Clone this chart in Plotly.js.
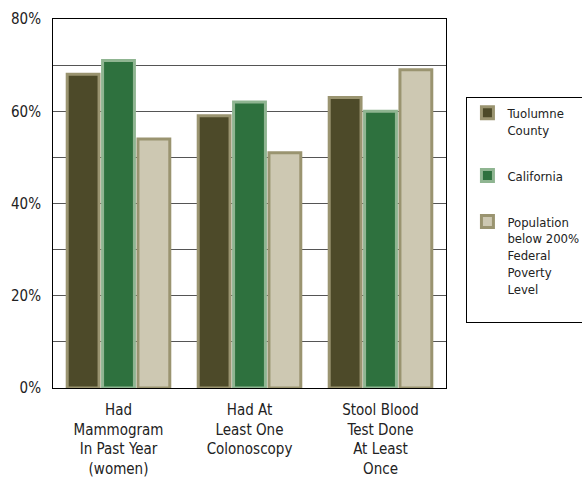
<!DOCTYPE html>
<html>
<head>
<meta charset="utf-8">
<script src="https://cdn.plot.ly/plotly-3.0.1.min.js"></script>
<style>html,body{margin:0;padding:0;background:#fff;}#chart{width:582px;height:484px;}</style>
</head>
<body>
<div id="chart"></div>
<script>
const categories = ["Had<br>Mammogram<br>In Past Year<br>(women)", "Had At<br>Least One<br>Colonoscopy", "Stool Blood<br>Test Done<br>At Least<br>Once"];
const seriesNames = ["Tuolumne<br>County", "California", "Population<br>below 200%<br>Federal<br>Poverty<br>Level<br> "];
const tuolumne = [68, 59, 63];
const california = [71, 62, 60];
const poverty = [54, 51, 69];
const yTickVals = [0, 10, 20, 30, 40, 50, 60, 70, 80];
const yTickText = ["0%", "", "20%", "", "40%", "", "60%", "", "80%"];

const FONT = "'DejaVu Sans Condensed', 'Liberation Sans Narrow', 'Arial Narrow', sans-serif";
const fills = ["#4d4a29", "#2e713e", "#cdc8b2"];
const borders = ["#9a9470", "#8fb591", "#9a9470"];
const vals = [tuolumne, california, poverty];

const data = vals.map((v, i) => ({
  type: "bar",
  x: categories,
  y: v,
  name: seriesNames[i],
  legendgroup: "g" + i,
  marker: { color: fills[i], line: { color: borders[i], width: 3 } },
  hoverinfo: "none"
}));

const layout = {
  width: 582, height: 484,
  margin: { l: 53, r: 136, t: 19, b: 96, autoexpand: false },
  paper_bgcolor: "#fff", plot_bgcolor: "#fff",
  font: { family: FONT, size: 14, color: "#222" },
  barmode: "group",
  bargap: 0.19,
  bargroupgap: 0.1,
  showlegend: true,
  legend: {
    x: 1.052, xanchor: "left", y: 0.789, yanchor: "top",
    bordercolor: "#000", borderwidth: 1,
    font: { family: FONT, size: 13, color: "#222" },
    tracegroupgap: 26,
    valign: "top",
    itemwidth: 30
  },
  xaxis: {
    showline: true, linecolor: "#000", linewidth: 1, mirror: true,
    ticks: "", ticklabelstandoff: 8,
    tickfont: { family: FONT, size: 15, color: "#222" },
    fixedrange: true
  },
  yaxis: {
    range: [0, 80],
    tickvals: yTickVals,
    ticktext: yTickText,
    showgrid: true, gridcolor: "#555", gridwidth: 1,
    showline: true, linecolor: "#000", linewidth: 1, mirror: true,
    zeroline: false, ticks: "", ticklabelstandoff: 8,
    tickfont: { family: FONT, size: 15, color: "#222" },
    fixedrange: true
  }
};

Plotly.newPlot("chart", data, layout, { staticPlot: true, displayModeBar: false });
</script>
</body>
</html>
